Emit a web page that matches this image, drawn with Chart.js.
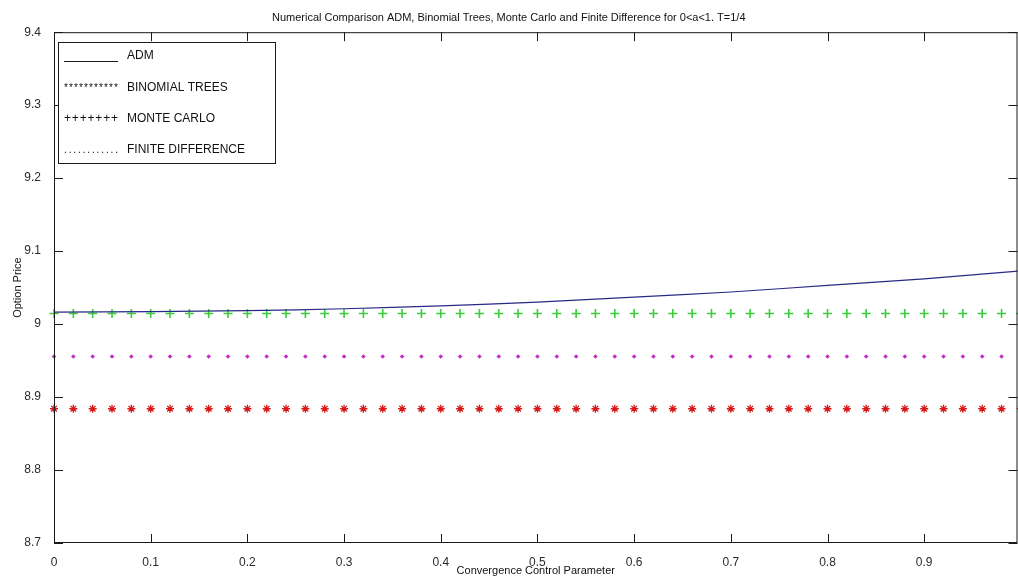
<!DOCTYPE html>
<html>
<head>
<meta charset="utf-8">
<script src="https://cdn.jsdelivr.net/npm/chart.js@4.4.1/dist/chart.umd.min.js"></script>
<style>
  html, body { margin: 0; padding: 0; background: #fff; overflow: hidden; }
  #wrap { width: 1018px; height: 578px; position: relative; }
</style>
</head>
<body>
<div id="wrap"><canvas id="chartComparacion"></canvas></div>
<script>
// Valores (parametro de convergencia a, precio de la opcion)
var aValues = [0, 0.02, 0.04, 0.06, 0.08, 0.1, 0.12, 0.14, 0.16, 0.18,
  0.2, 0.22, 0.24, 0.26, 0.28, 0.3, 0.32, 0.34, 0.36, 0.38,
  0.4, 0.42, 0.44, 0.46, 0.48, 0.5, 0.52, 0.54, 0.56, 0.58,
  0.6, 0.62, 0.64, 0.66, 0.68, 0.7, 0.72, 0.74, 0.76, 0.78,
  0.8, 0.82, 0.84, 0.86, 0.88, 0.9, 0.92, 0.94, 0.96, 0.98, 1.0];

var binomialPrices = [8.884, 8.884, 8.884, 8.884, 8.884, 8.884, 8.884, 8.884, 8.884, 8.884,
  8.884, 8.884, 8.884, 8.884, 8.884, 8.884, 8.884, 8.884, 8.884, 8.884,
  8.884, 8.884, 8.884, 8.884, 8.884, 8.884, 8.884, 8.884, 8.884, 8.884,
  8.884, 8.884, 8.884, 8.884, 8.884, 8.884, 8.884, 8.884, 8.884, 8.884,
  8.884, 8.884, 8.884, 8.884, 8.884, 8.884, 8.884, 8.884, 8.884, 8.884, 8.884];

var monteCarloPrices = [9.0145, 9.0145, 9.0145, 9.0145, 9.0145, 9.0145, 9.0145, 9.0145, 9.0145, 9.0145,
  9.0145, 9.0145, 9.0145, 9.0145, 9.0145, 9.0145, 9.0145, 9.0145, 9.0145, 9.0145,
  9.0145, 9.0145, 9.0145, 9.0145, 9.0145, 9.0145, 9.0145, 9.0145, 9.0145, 9.0145,
  9.0145, 9.0145, 9.0145, 9.0145, 9.0145, 9.0145, 9.0145, 9.0145, 9.0145, 9.0145,
  9.0145, 9.0145, 9.0145, 9.0145, 9.0145, 9.0145, 9.0145, 9.0145, 9.0145, 9.0145, 9.0145];

var finiteDiffPrices = [8.9555, 8.9555, 8.9555, 8.9555, 8.9555, 8.9555, 8.9555, 8.9555, 8.9555, 8.9555,
  8.9555, 8.9555, 8.9555, 8.9555, 8.9555, 8.9555, 8.9555, 8.9555, 8.9555, 8.9555,
  8.9555, 8.9555, 8.9555, 8.9555, 8.9555, 8.9555, 8.9555, 8.9555, 8.9555, 8.9555,
  8.9555, 8.9555, 8.9555, 8.9555, 8.9555, 8.9555, 8.9555, 8.9555, 8.9555, 8.9555,
  8.9555, 8.9555, 8.9555, 8.9555, 8.9555, 8.9555, 8.9555, 8.9555, 8.9555, 8.9555, 8.9555];

// ADM: curva continua
var admA = [0, 0.1, 0.2, 0.3, 0.4, 0.5, 0.6, 0.7, 0.8, 0.9, 1.0];
var admPrices = [9.0165, 9.017, 9.0185, 9.021, 9.025, 9.030, 9.037, 9.044, 9.053, 9.062, 9.073];

var xTicks = [0, 0.1, 0.2, 0.3, 0.4, 0.5, 0.6, 0.7, 0.8, 0.9];
var yTicks = [8.7, 8.8, 8.9, 9, 9.1, 9.2, 9.3, 9.4];

var legendLabels = ['ADM', 'BINOMIAL TREES', 'MONTE CARLO', 'FINITE DIFFERENCE'];
var legendSamples = ['', '***********', '+++++++', '............'];

var FONT = '"Liberation Sans", Arial, sans-serif';

function toPoints(xs, ys) {
  return xs.map(function(x, i) { return { x: x, y: ys[i] }; });
}

function tickLabel(v) {
  return String(Math.round(v * 10) / 10);
}

// Caja de ejes con marcas hacia adentro (estilo MATLAB) + leyenda
var matlabFrame = {
  id: 'matlabFrame',
  afterDatasetsDraw: function(chart) {
    var ctx = chart.ctx;
    var area = chart.chartArea;
    var xs = chart.scales.x;
    var ys = chart.scales.y;
    var tl = 9;
    ctx.save();
    ctx.strokeStyle = '#1a1a1a';
    ctx.lineWidth = 1;
    ctx.strokeRect(area.left + 0.5, area.top + 0.5, area.right - area.left - 1, area.bottom - area.top - 1);
    ctx.beginPath();
    xTicks.forEach(function(v) {
      var px = Math.round(xs.getPixelForValue(v)) + 0.5;
      ctx.moveTo(px, area.bottom); ctx.lineTo(px, area.bottom - tl);
      ctx.moveTo(px, area.top); ctx.lineTo(px, area.top + tl);
    });
    yTicks.forEach(function(v) {
      var py = Math.round(ys.getPixelForValue(v)) + 0.5;
      ctx.moveTo(area.left, py); ctx.lineTo(area.left + tl, py);
      ctx.moveTo(area.right, py); ctx.lineTo(area.right - tl, py);
    });
    ctx.stroke();

    // leyenda
    var bx = 58.5, by = 42.5, bw = 217, bh = 121;
    ctx.fillStyle = '#fff';
    ctx.fillRect(bx, by, bw, bh);
    ctx.strokeStyle = '#1a1a1a';
    ctx.strokeRect(bx, by, bw, bh);
    var baselines = [58.5, 90.5, 121.5, 152.5];
    ctx.fillStyle = '#111';
    ctx.textBaseline = 'alphabetic';
    ctx.textAlign = 'left';
    legendLabels.forEach(function(lbl, i) {
      ctx.font = '12px ' + FONT;
      ctx.fillText(lbl, 127, baselines[i]);
      if (i === 0) {
        ctx.beginPath();
        ctx.moveTo(64, baselines[i] + 3);
        ctx.lineTo(118, baselines[i] + 3);
        ctx.stroke();
      } else {
        var s = legendSamples[i];
        ctx.font = (i === 2 ? '12px ' : '10px ') + FONT;
        var step = (54 - ctx.measureText(s[0]).width) / (s.length - 1);
        for (var k = 0; k < s.length; k++) ctx.fillText(s[k], 64 + k * step, baselines[i]);
      }
    });
    ctx.restore();
  }
};

var canvas = document.getElementById('chartComparacion');

new Chart(canvas, {
  type: 'scatter',
  data: {
    datasets: [
      { label: 'ADM', data: toPoints(admA, admPrices), showLine: true, borderColor: '#2a2a86', borderWidth: 1.2, pointRadius: 0, tension: 0.3, clip: { left: 0, right: 0, top: 0, bottom: 0 } },
      { label: 'BINOMIAL TREES', data: toPoints(aValues, binomialPrices), pointStyle: 'star', pointRadius: 4, borderColor: '#d81818', backgroundColor: '#d81818', borderWidth: 1.3, clip: false },
      { label: 'MONTE CARLO', data: toPoints(aValues, monteCarloPrices), pointStyle: 'cross', pointRadius: 4.5, borderColor: '#3ccc3c', backgroundColor: '#3ccc3c', borderWidth: 1.6, clip: false },
      { label: 'FINITE DIFFERENCE', data: toPoints(aValues, finiteDiffPrices), pointStyle: 'rectRot', pointRadius: 2.3, borderWidth: 0, backgroundColor: '#c42ec4', borderColor: '#c42ec4', clip: false }
    ]
  },
  options: {
    responsive: true,
    maintainAspectRatio: false,
    animation: false,
    layout: { autoPadding: false, padding: { left: 0, right: 0.5, top: 0, bottom: 0 } },
    plugins: {
      legend: { display: false },
      tooltip: { enabled: false },
      title: {
        display: true,
        text: 'Numerical Comparison ADM, Binomial Trees, Monte Carlo and Finite Difference for 0<a<1. T=1/4',
        color: '#111',
        font: { family: FONT, size: 11, weight: 'normal', lineHeight: 1.2 },
        padding: { top: 11, bottom: 8 }
      }
    },
    scales: {
      x: {
        type: 'linear',
        min: 0,
        max: 0.9965,
        afterBuildTicks: function(scale) { scale.ticks = xTicks.map(function(v) { return { value: v }; }); },
        afterFit: function(scale) { scale.height = 35; scale.paddingLeft = 0; scale.paddingRight = 0; },
        grid: { display: false },
        border: { display: false },
        ticks: { color: '#2a2a2a', padding: 4, maxRotation: 0, autoSkip: false, callback: tickLabel, font: { family: FONT, size: 12 } },
        title: { display: true, text: 'Convergence Control Parameter', color: '#111', font: { family: FONT, size: 11 }, padding: { top: 0, bottom: 0 } }
      },
      y: {
        min: 8.7,
        max: 9.4,
        afterBuildTicks: function(scale) { scale.ticks = yTicks.map(function(v) { return { value: v }; }); },
        afterFit: function(scale) { scale.width = 54; scale.paddingTop = 0; scale.paddingBottom = 0; },
        grid: { display: false },
        border: { display: false },
        ticks: { color: '#2a2a2a', padding: 5, callback: tickLabel, font: { family: FONT, size: 12 } },
        title: { display: true, text: 'Option Price', color: '#111', font: { family: FONT, size: 11 }, padding: { top: 11, bottom: 0 } }
      }
    }
  },
  plugins: [matlabFrame]
});
</script>
</body>
</html>
